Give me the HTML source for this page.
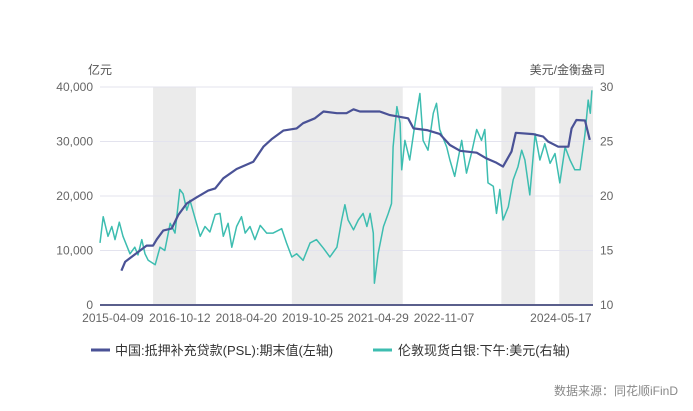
<!DOCTYPE html>
<html><head><meta charset="utf-8">
<style>
html,body{margin:0;padding:0;background:#fff;}
svg text{font-family:"Liberation Sans","Noto Sans CJK SC",sans-serif;}
</style></head>
<body>
<svg id="chart" width="693" height="406" xmlns="http://www.w3.org/2000/svg">
<g id="shade"></g><g id="grid"></g><g id="series"></g><g id="axes"></g>
<text x="88" y="74" font-size="12" fill="#555">亿元</text>
<text x="605" y="74" font-size="12" fill="#555" text-anchor="end">美元/金衡盎司</text>
<g>
<g><line x1="91" y1="350" x2="110" y2="350" stroke="#4a5296" stroke-width="3"/><text x="115" y="355" font-size="13" fill="#333">中国:抵押补充贷款(PSL):期末值(左轴)</text></g>
<g><line x1="373" y1="350" x2="392" y2="350" stroke="#3dbdb0" stroke-width="3"/><text x="398" y="355" font-size="13" fill="#333">伦敦现货白银:下午:美元(右轴)</text></g>
</g>
<text x="678" y="395" font-size="12" fill="#888" text-anchor="end">数据来源：同花顺iFinD</text>
</svg>
<script>
const shadeRanges=[[0.99,1.79],[3.58,5.65],[7.49,8.12],[8.57,9.2]];
const leftTicks=[0,10000,20000,30000,40000];
const leftTickLabels=["0","10,000","20,000","30,000","40,000"];
const rightTicks=[10,15,20,25,30];
const xTickTimes=[0.24,1.49,2.73,3.97,5.19,6.42,8.6];
const xTickLabels=["2015-04-09","2016-10-12","2018-04-20","2019-10-25","2021-04-29","2022-11-07","2024-05-17"];
const pslT=[0.40,0.47,0.87,0.99,1.06,1.18,1.34,1.46,1.62,1.80,2.02,2.15,2.30,2.55,2.86,3.05,3.20,3.42,3.67,3.79,4.01,4.17,4.42,4.60,4.73,4.85,5.22,5.41,5.63,5.75,5.85,6.10,6.34,6.53,6.72,7.03,7.21,7.40,7.52,7.68,7.76,8.08,8.27,8.36,8.55,8.74,8.80,8.89,9.05,9.14];
const pslV=[6300,7950,10900,10900,12050,13650,14050,16500,18650,19750,21000,21400,23250,24950,26300,29050,30400,32000,32400,33350,34250,35500,35200,35200,35900,35500,35500,34850,34450,34250,32400,32100,31400,29350,28300,27950,26900,26100,25400,28150,31600,31350,30900,30000,29050,29050,32400,33950,33850,30300];
const agT=[0,0.06,0.15,0.22,0.28,0.36,0.43,0.56,0.65,0.71,0.78,0.84,0.90,1.03,1.12,1.21,1.31,1.40,1.49,1.55,1.62,1.68,1.80,1.87,1.96,2.05,2.15,2.24,2.30,2.39,2.46,2.55,2.64,2.71,2.80,2.89,2.99,3.11,3.23,3.39,3.48,3.58,3.67,3.79,3.92,4.04,4.17,4.29,4.42,4.51,4.57,4.63,4.73,4.82,4.91,4.98,5.04,5.10,5.12,5.19,5.29,5.38,5.44,5.47,5.54,5.60,5.63,5.69,5.78,5.88,5.97,6.03,6.12,6.22,6.28,6.34,6.47,6.53,6.62,6.75,6.84,6.93,7.03,7.12,7.18,7.24,7.34,7.40,7.46,7.52,7.62,7.71,7.80,7.87,7.93,8.02,8.12,8.21,8.30,8.40,8.49,8.58,8.68,8.77,8.86,8.96,9.05,9.11,9.15,9.18];
const agV=[15.7,18.1,16.3,17.2,16.0,17.6,16.3,14.7,15.3,14.6,16.0,14.7,14.1,13.7,15.3,15.0,17.5,16.6,20.6,20.2,18.7,19.6,17.5,16.3,17.2,16.7,18.3,18.4,16.3,17.5,15.3,17.2,18.1,16.6,17.2,16.0,17.3,16.6,16.6,17.0,15.7,14.4,14.7,14.1,15.7,16.0,15.2,14.4,15.3,17.8,19.2,17.8,16.9,17.8,18.4,17.2,18.4,16.6,12.0,14.7,17.2,18.4,19.3,24.5,28.2,26.7,22.4,25.1,23.3,26.7,29.4,25.1,24.2,27.6,28.5,26.1,24.5,23.3,21.8,25.1,22.1,23.9,26.1,25.1,26.1,21.2,20.9,18.4,20.6,17.8,19.0,21.5,22.7,24.2,23.3,20.1,25.7,23.3,24.8,23.0,23.9,21.2,24.5,23.3,22.4,22.4,25.7,28.8,27.6,29.7];

const NS="http://www.w3.org/2000/svg";
const X0=100,X1=593,Y0=305,Y1=87,TMAX=9.2;
const xs=t=>X0+t/TMAX*(X1-X0);
const yl=v=>Y0-v/40000*(Y0-Y1);
const yr=v=>Y0-(v-10)/20*(Y0-Y1);
function mk(tag,attrs,parent){const e=document.createElementNS(NS,tag);for(const k in attrs)e.setAttribute(k,attrs[k]);document.getElementById(parent).appendChild(e);return e;}
shadeRanges.forEach(r=>{
 const e=mk('rect',{x:xs(r[0]),y:Y1,width:xs(Math.min(r[1],TMAX))-xs(r[0]),height:Y0-Y1,fill:'#ebebeb'},'shade');
 
 
});
leftTicks.forEach((v,i)=>{
 if(v>0){const g=mk('line',{x1:X0,x2:X1,y1:yl(v),y2:yl(v),stroke:'#e3e3ee','stroke-width':1},'grid');
 
 }
 const t=mk('text',{x:93,y:yl(v)+4,'font-size':12,fill:'#666','text-anchor':'end'},'axes');t.textContent=leftTickLabels[i];
 
 
});
rightTicks.forEach(v=>{
 const t=mk('text',{x:600,y:yr(v)+4,'font-size':12,fill:'#666'},'axes');t.textContent=v;
 
 
});
xTickTimes.forEach((tt,i)=>{
 const t=mk('text',{x:xs(tt),y:322,'font-size':12,fill:'#666','text-anchor':'middle'},'axes');t.textContent=xTickLabels[i];
 
 
});
const ax=mk('line',{x1:X0,x2:X1,y1:Y0,y2:Y0,stroke:'#5a5f8c','stroke-width':2},'axes');


const ag=mk('path',{d:agT.map((t,i)=>(i?'L':'M')+xs(t).toFixed(1)+','+yr(agV[i]).toFixed(1)).join(''),fill:'none',stroke:'#3dbdb0','stroke-width':1.5,'stroke-linejoin':'round'},'series');


const ps=mk('path',{d:pslT.map((t,i)=>(i?'L':'M')+xs(t).toFixed(1)+','+yl(pslV[i]).toFixed(1)).join(''),fill:'none',stroke:'#4a5296','stroke-width':2.2,'stroke-linejoin':'round'},'series');


</script>
</body></html>
